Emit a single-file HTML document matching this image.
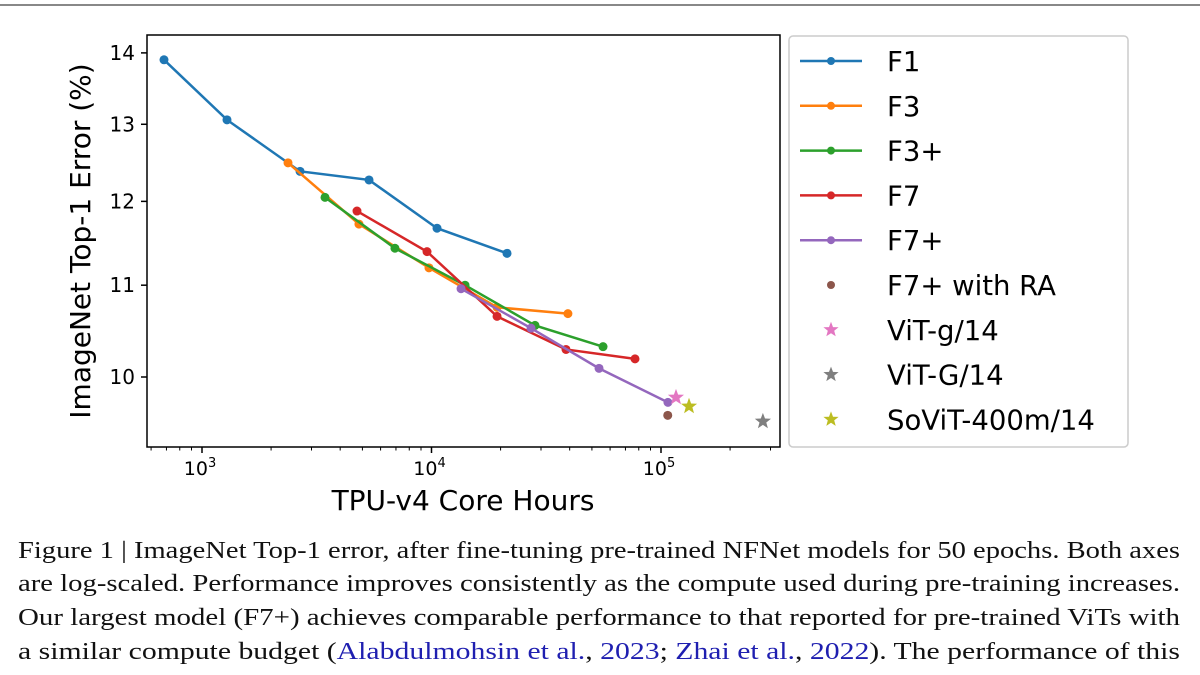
<!DOCTYPE html>
<html><head><meta charset="utf-8"><style>
html,body{margin:0;padding:0;background:#fff;width:1200px;height:675px;overflow:hidden}
svg{display:block}
</style></head><body>
<svg id="chart" width="1200" height="675" viewBox="0 0 1200 675" xmlns="http://www.w3.org/2000/svg">
<line x1="0" y1="5" x2="1200" y2="5" stroke="#888" stroke-width="2"/>
<g id="plot"></g>
<g font-family="'Liberation Serif', serif" font-size="24" fill="#111">
<text x="18" y="558" textLength="1162" lengthAdjust="spacingAndGlyphs">Figure 1 | ImageNet Top-1 error, after fine-tuning pre-trained NFNet models for 50 epochs. Both axes</text>
<text x="18" y="591" textLength="1162" lengthAdjust="spacingAndGlyphs">are log-scaled. Performance improves consistently as the compute used during pre-training increases.</text>
<text x="18" y="625" textLength="1162" lengthAdjust="spacingAndGlyphs">Our largest model (F7+) achieves comparable performance to that reported for pre-trained ViTs with</text>
<text x="18" y="659" textLength="1162" lengthAdjust="spacingAndGlyphs">a similar compute budget (<tspan fill="#1f1fb0">Alabdulmohsin et al.</tspan>, <tspan fill="#1f1fb0">2023</tspan>; <tspan fill="#1f1fb0">Zhai et al.</tspan>, <tspan fill="#1f1fb0">2022</tspan>). The performance of this</text>
</g>
</svg>
<script>
const seriesNames = ["F1","F3","F3+","F7","F7+"];
const f1X = [683,1285,2674,5343,10570,21330];
const f1Y = [13.9,13.06,12.38,12.27,11.67,11.37];
const f3X = [2370,4830,9750,19300,39300];
const f3Y = [12.49,11.72,11.2,10.75,10.68];
const f3pX = [3435,6930,14000,28250,55900];
const f3pY = [12.05,11.43,11.0,10.55,10.32];
const f7X = [4735,9560,19300,38550,77050];
const f7Y = [11.88,11.39,10.65,10.29,10.19];
const f7pX = [13450,27140,53700,107200];
const f7pY = [10.96,10.52,10.09,9.74];
const raX = [107000]; const raY = [9.61];
const vitgX = [116200]; const vitgY = [9.79];
const vitGX = [278000]; const vitGY = [9.55];
const sovitX = [132500]; const sovitY = [9.70];
const yTicks = [10,11,12,13,14];
const xTicks = [1000,10000,100000];
const xTickExp = ["3","4","5"];

const NS="http://www.w3.org/2000/svg";
const g=document.getElementById('plot');
const L=147,R=780,T=35,B=447;
function xs(v){return 202+229.5*Math.log10(v/1000);}
function ys(v){return 377-2218*Math.log10(v/10);}
function mk(tag,attrs,parent){const e=document.createElementNS(NS,tag);for(const k in attrs)e.setAttribute(k,attrs[k]);(parent||g).appendChild(e);return e;}

yTicks.forEach(t=>{
  const tk=mk('line',{x1:L-6,x2:L,y1:ys(t),y2:ys(t),stroke:'#000','stroke-width':1.5});
  
  
  const lb=mk('text',{x:L-12,y:ys(t)+7,'text-anchor':'end','font-family':'DejaVu Sans, sans-serif','font-size':20,fill:'#000'});
  lb.textContent=t;
  
  
});
for(let d=2;d<=5;d++){for(let m=1;m<10;m++){const v=m*Math.pow(10,d);const x=xs(v);if(x<L||x>R)continue;
  const big=m===1;
  const tk=mk('line',{x1:x,x2:x,y1:B,y2:B+(big?6:3.5),stroke:'#000','stroke-width':big?1.5:1});
  
  
}}
xTicks.forEach((t,i)=>{
  const lb=mk('text',{x:xs(t)-2,y:B+28,'text-anchor':'middle','font-family':'DejaVu Sans, sans-serif','font-size':19,fill:'#000'});
  lb.textContent='10';
  const sp=mk('tspan',{dy:-8,'font-size':13},lb);sp.textContent=xTickExp[i];
  
  
});
const xl=mk('text',{x:463,y:510,'text-anchor':'middle','font-family':'DejaVu Sans, sans-serif','font-size':28,fill:'#000'});
xl.textContent='TPU-v4 Core Hours';


const yl=mk('text',{x:0,y:0,transform:'translate(90,241) rotate(-90)','text-anchor':'middle','font-family':'DejaVu Sans, sans-serif','font-size':28,fill:'#000'});
yl.textContent='ImageNet Top-1 Error (%)';



const lines=[[f1X,f1Y,'#1f77b4'],[f3X,f3Y,'#ff7f0e'],[f3pX,f3pY,'#2ca02c'],[f7X,f7Y,'#d62728'],[f7pX,f7pY,'#9467bd']];
lines.forEach((s,i)=>{
  const pts=s[0].map((x,j)=>xs(x)+','+ys(s[1][j])).join(' ');
  const pl=mk('polyline',{points:pts,fill:'none',stroke:s[2],'stroke-width':2.5});
  
  
  s[0].forEach((x,j)=>{
    const c=mk('circle',{cx:xs(x),cy:ys(s[1][j]),r:4.5,fill:s[2]});
    
    
  });
});
raX.forEach((x,j)=>{const c=mk('circle',{cx:xs(x),cy:ys(raY[j]),r:4.5,fill:'#8c564b'});
  
  });
function star(cx,cy,r,col){const p=[];for(let k=0;k<10;k++){const a=-Math.PI/2+k*Math.PI/5;const rr=k%2?r*0.42:r;p.push((cx+rr*Math.cos(a)).toFixed(1)+','+(cy+rr*Math.sin(a)).toFixed(1));}return mk('polygon',{points:p.join(' '),fill:col});}
[[vitgX,vitgY,'#e377c2','star-vit-g14'],[vitGX,vitGY,'#7f7f7f','star-vit-G14'],[sovitX,sovitY,'#bcbd22','star-sovit']].forEach(s=>{
  s[0].forEach((x,j)=>{const st=star(xs(x),ys(s[1][j]),8.5,s[2]);
    
    });
});
const fr=mk('rect',{x:L,y:T,width:R-L,height:B-T,fill:'none',stroke:'#000','stroke-width':1.5});



const lg=mk('rect',{x:789,y:36,width:339,height:411,rx:4,fill:'#fff',stroke:'#ccc','stroke-width':1.5});


const legNames=["F1","F3","F3+","F7","F7+","F7+ with RA","ViT-g/14","ViT-G/14","SoViT-400m/14"];
const legCols=['#1f77b4','#ff7f0e','#2ca02c','#d62728','#9467bd','#8c564b','#e377c2','#7f7f7f','#bcbd22'];
legNames.forEach((n,i)=>{
  const y=61+i*44.8;
  if(i<5){const l=mk('line',{x1:800,x2:862,y1:y,y2:y,stroke:legCols[i],'stroke-width':2.5});
    
    
    mk('circle',{cx:831,cy:y,r:4,fill:legCols[i]});}
  else if(i===5){mk('circle',{cx:831,cy:y,r:4,fill:legCols[i]});}
  else {star(831,y,8,legCols[i]);}
  const t=mk('text',{x:887,y:y+10,'font-family':'DejaVu Sans, sans-serif','font-size':27.5,fill:'#000'});
  t.textContent=n;
  
  
});
</script>
</body></html>
